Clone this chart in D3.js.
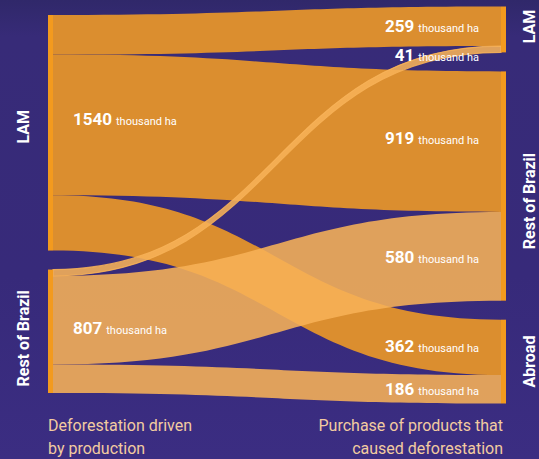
<!DOCTYPE html>
<html>
<head>
<meta charset="utf-8">
<script src="https://cdn.jsdelivr.net/npm/d3@7"></script>
<style>
  html, body { margin: 0; padding: 0; background: #382b7b; }
  svg { display: block; font-family: Roboto, "Noto Sans", sans-serif; }
</style>
</head>
<body>
<div id="chart"></div>
<script>
//Datos
const leftNodes = ['LAM', 'Rest of Brazil'];
const rightNodes = ['LAM', 'Rest of Brazil', 'Abroad'];
const flowSource = [0, 0, 0, 1, 1, 1];
const flowTarget = [0, 1, 2, 0, 1, 2];
const flowValue = [259, 919, 362, 41, 580, 186];
const unitLabel = 'thousand ha';
const leftCaption = ['Deforestation driven', 'by production'];
const rightCaption = ['Purchase of products that', 'caused deforestation'];

//Colores fijos
const COLOR_NODE = '#f39a1e',
COLOR_FLOW_LAM = '#db8e2f',
COLOR_FLOW_REST = '#f7b258',
COLOR_CAPTION = '#f2cba0';

const width = 539, height = 459;

let svg = d3.select('#chart')
    .append('svg')
    .attr('width', width)
    .attr('height', height);

//Fondo
let defs = svg.append('defs');
let bg = defs.append('linearGradient').attr('id', 'bg').attr('x1', 0).attr('y1', 0).attr('x2', 0).attr('y2', 1);
bg.append('stop').attr('offset', '0%').attr('stop-color', '#30286a');
bg.append('stop').attr('offset', '8%').attr('stop-color', '#372b78');
bg.append('stop').attr('offset', '60%').attr('stop-color', '#372a7a');
bg.append('stop').attr('offset', '100%').attr('stop-color', '#3b2d82');
svg.append('rect').attr('width', width).attr('height', height).attr('fill', 'url(#bg)');

//Escala de valores a píxeles
let total = d3.sum(flowValue);
let k = d3.scaleLinear().domain([0, total]).range([0, 359]);

//Columnas
let colLeft = { x0: 48, x1: 53, top: 15, gap: 19 },
    colRight = { x0: 501, x1: 506, top: 6.5, gap: 19 };

function layoutNodes(names, col, key) {
    let y = col.top;
    return names.map(function(name, i) {
        let value = d3.sum(flowValue.filter(function(v, j) { return key[j] == i; }));
        let node = { name: name, value: value, y0: y, y1: y + k(value), offset: 0 };
        y = node.y1 + col.gap;
        return node;
    });
}

let left = layoutNodes(leftNodes, colLeft, flowSource);
let right = layoutNodes(rightNodes, colRight, flowTarget);

//Flujos
let links = flowValue.map(function(v, i) {
    let s = left[flowSource[i]], t = right[flowTarget[i]];
    let h = k(v);
    let link = {
        source: flowSource[i], value: v,
        sy0: s.y0 + s.offset, ty0: t.y0 + t.offset, h: h
    };
    s.offset += h;
    t.offset += h;
    return link;
});

let band = d3.area()
    .x(function(d) { return d.x; })
    .y0(function(d) { return d.y0; })
    .y1(function(d) { return d.y1; })
    .curve(d3.curveBumpX);

svg.append('g')
    .selectAll('path')
    .data(links)
    .enter()
    .append('path')
    .attr('d', function(d) {
        return band([
            { x: colLeft.x1, y0: d.sy0, y1: d.sy0 + d.h },
            { x: colRight.x0, y0: d.ty0, y1: d.ty0 + d.h }
        ]);
    })
    .attr('fill', function(d) { return d.source == 0 ? COLOR_FLOW_LAM : COLOR_FLOW_REST; })
    .attr('fill-opacity', function(d) { return d.source == 0 ? 1 : 0.88; })
    //el flujo fino se engrosa un poco en la curva
    .attr('stroke', function(d) { return d.source == 1 && d.value < 100 ? COLOR_FLOW_REST : 'none'; })
    .attr('stroke-opacity', 0.88)
    .attr('stroke-width', 1.2);

//Nodos
function drawNodes(nodes, col) {
    svg.append('g')
        .selectAll('rect')
        .data(nodes)
        .enter()
        .append('rect')
        .attr('x', col.x0)
        .attr('width', col.x1 - col.x0)
        .attr('y', function(d) { return d.y0; })
        .attr('height', function(d) { return d.y1 - d.y0; })
        .attr('fill', COLOR_NODE);
}
drawNodes(left, colLeft);
drawNodes(right, colRight);

//Etiquetas de valores
function valueLabel(x, y, value, anchor) {
    let t = svg.append('text')
        .attr('x', x)
        .attr('y', y)
        .attr('text-anchor', anchor)
        .attr('fill', '#ffffff');
    t.append('tspan').attr('font-size', 17).attr('font-weight', 700).text(value);
    t.append('tspan').attr('font-size', 11).attr('dx', 4).text(unitLabel);
}

let leftDy = [-8, 3];
left.forEach(function(n, i) {
    valueLabel(73, (n.y0 + n.y1) / 2 + leftDy[i], n.value, 'start');
});

let rightDy = [6, 12, 2, 7, 5, 6];
links.slice().sort(function(a, b) { return a.ty0 - b.ty0; }).forEach(function(l, i) {
    valueLabel(479, l.ty0 + l.h / 2 + rightDy[i], l.value, 'end');
});

//Nombres de nodos
function nodeName(x, nodes, dys) {
    nodes.forEach(function(n, i) {
        svg.append('text')
            .attr('transform', 'translate(' + x + ',' + ((n.y0 + n.y1) / 2 + dys[i]) + ') rotate(-90)')
            .attr('text-anchor', 'middle')
            .attr('font-size', 16)
            .attr('font-weight', 700)
            .attr('fill', '#ffffff')
            .text(n.name);
    });
}
nodeName(29, left, [-6, 7]);
nodeName(535, right, [-3, 15, 0]);

//Textos inferiores
function caption(x, lines, anchor) {
    lines.forEach(function(line, i) {
        svg.append('text')
            .attr('x', x)
            .attr('y', 431 + i * 23)
            .attr('text-anchor', anchor)
            .attr('font-size', 16)
            .attr('font-weight', 400)
            .attr('fill', COLOR_CAPTION)
            .text(line);
    });
}
caption(48, leftCaption, 'start');
caption(503, rightCaption, 'end');
</script>
</body>
</html>
